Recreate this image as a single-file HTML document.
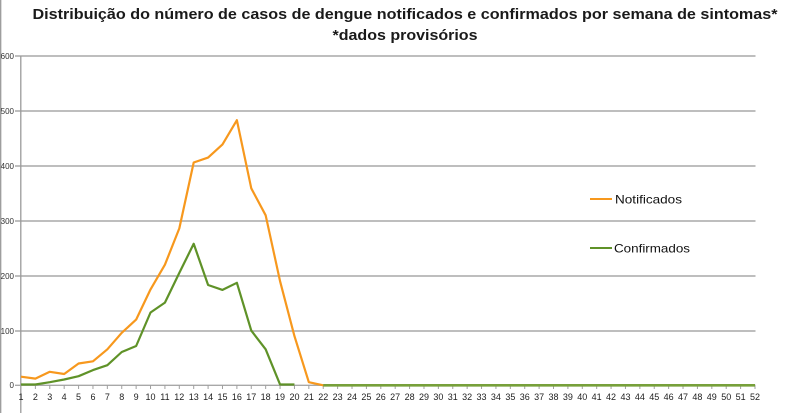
<!DOCTYPE html>
<html>
<head>
<meta charset="utf-8">
<style>
html,body{margin:0;padding:0;background:#fff;}
svg{display:block;}
text{font-family:"Liberation Sans",sans-serif;}
</style>
</head>
<body>
<svg width="800" height="413" viewBox="0 0 800 413" xmlns="http://www.w3.org/2000/svg">
<rect width="800" height="413" fill="#fff"/>
<!-- left border -->
<line x1="0.7" y1="0" x2="0.7" y2="413" stroke="#9a9a9a" stroke-width="1.3"/>
<!-- title -->
<text x="405" y="19" font-size="15" font-weight="bold" fill="#1a1a1a" text-anchor="middle" textLength="745" lengthAdjust="spacingAndGlyphs">Distribuição do número de casos de dengue notificados e confirmados por semana de sintomas*</text>
<text x="405" y="40" font-size="15" font-weight="bold" fill="#1a1a1a" text-anchor="middle" textLength="145" lengthAdjust="spacingAndGlyphs">*dados provisórios</text>
<!-- gridlines -->
<g stroke="#a8a8a8" stroke-width="1.4">
<line x1="15" y1="56" x2="755.5" y2="56"/>
<line x1="15" y1="111" x2="755.5" y2="111"/>
<line x1="15" y1="166" x2="755.5" y2="166"/>
<line x1="15" y1="221" x2="755.5" y2="221"/>
<line x1="15" y1="276" x2="755.5" y2="276"/>
<line x1="15" y1="331" x2="755.5" y2="331"/>
<line x1="15" y1="385.3" x2="755.5" y2="385.3"/>
</g>
<!-- y axis -->
<line x1="20.8" y1="56" x2="20.8" y2="413" stroke="#9a9a9a" stroke-width="1.3"/>
<!-- y labels -->
<g font-size="8" fill="#333" text-anchor="end">
<text x="14" y="59">600</text>
<text x="14" y="114">500</text>
<text x="14" y="169">400</text>
<text x="14" y="224">300</text>
<text x="14" y="279">200</text>
<text x="14" y="334">100</text>
<text x="14" y="388">0</text>
</g>
<!-- x ticks -->
<g stroke="#a0a0a0" stroke-width="1">
<path id="ticks" d="M21 385v4M35.39 385v4M49.78 385v4M64.18 385v4M78.57 385v4M92.96 385v4M107.35 385v4M121.74 385v4M136.14 385v4M150.53 385v4M164.92 385v4M179.31 385v4M193.7 385v4M208.1 385v4M222.49 385v4M236.88 385v4M251.27 385v4M265.66 385v4M280.06 385v4M294.45 385v4M308.84 385v4M323.23 385v4M337.62 385v4M352.02 385v4M366.41 385v4M380.8 385v4M395.19 385v4M409.58 385v4M423.98 385v4M438.37 385v4M452.76 385v4M467.15 385v4M481.54 385v4M495.94 385v4M510.33 385v4M524.72 385v4M539.11 385v4M553.5 385v4M567.9 385v4M582.29 385v4M596.68 385v4M611.07 385v4M625.46 385v4M639.86 385v4M654.25 385v4M668.64 385v4M683.03 385v4M697.42 385v4M711.82 385v4M726.21 385v4M740.6 385v4M755 385v4"/>
</g>
<!-- x labels -->
<g font-size="9" fill="#222" text-anchor="middle">
<text x="21" y="400">1</text><text x="35.39" y="400">2</text><text x="49.78" y="400">3</text><text x="64.18" y="400">4</text><text x="78.57" y="400">5</text><text x="92.96" y="400">6</text><text x="107.35" y="400">7</text><text x="121.74" y="400">8</text><text x="136.14" y="400">9</text><text x="150.53" y="400">10</text><text x="164.92" y="400">11</text><text x="179.31" y="400">12</text><text x="193.7" y="400">13</text><text x="208.1" y="400">14</text><text x="222.49" y="400">15</text><text x="236.88" y="400">16</text><text x="251.27" y="400">17</text><text x="265.66" y="400">18</text><text x="280.06" y="400">19</text><text x="294.45" y="400">20</text><text x="308.84" y="400">21</text><text x="323.23" y="400">22</text><text x="337.62" y="400">23</text><text x="352.02" y="400">24</text><text x="366.41" y="400">25</text><text x="380.8" y="400">26</text><text x="395.19" y="400">27</text><text x="409.58" y="400">28</text><text x="423.98" y="400">29</text><text x="438.37" y="400">30</text><text x="452.76" y="400">31</text><text x="467.15" y="400">32</text><text x="481.54" y="400">33</text><text x="495.94" y="400">34</text><text x="510.33" y="400">35</text><text x="524.72" y="400">36</text><text x="539.11" y="400">37</text><text x="553.5" y="400">38</text><text x="567.9" y="400">39</text><text x="582.29" y="400">40</text><text x="596.68" y="400">41</text><text x="611.07" y="400">42</text><text x="625.46" y="400">43</text><text x="639.86" y="400">44</text><text x="654.25" y="400">45</text><text x="668.64" y="400">46</text><text x="683.03" y="400">47</text><text x="697.42" y="400">48</text><text x="711.82" y="400">49</text><text x="726.21" y="400">50</text><text x="740.6" y="400">51</text><text x="755" y="400">52</text>
</g>
<!-- Notificados -->
<polyline fill="none" stroke="#f7981d" stroke-width="2.2" stroke-linejoin="round" points="21,376.7 35.39,378.6 49.78,371.8 64.18,374 78.57,363.5 92.96,361.3 107.35,349.3 121.74,332.8 136.14,319.6 150.53,289.4 164.92,264.7 179.31,228.4 193.7,162.5 208.1,157.6 222.49,144.4 236.88,120.2 251.27,188.3 265.66,215.3 280.06,281.2 294.45,336.1 308.84,382.2 323.23,385.3 755,385.3"/>
<!-- Confirmados -->
<polyline fill="none" stroke="#5f9228" stroke-width="2.2" stroke-linejoin="round" points="21,384.5 35.39,384.5 49.78,382.2 64.18,379.5 78.57,376.2 92.96,370.1 107.35,365.2 121.74,352 136.14,346 150.53,312.5 164.92,302.6 179.31,272.9 193.7,243.8 208.1,285 222.49,289.9 236.88,282.8 251.27,330.6 265.66,349.3 280.06,384.5 294.45,384.5"/>
<line x1="323.23" y1="385.3" x2="755" y2="385.3" stroke="#77a03a" stroke-width="2.6"/>
<!-- legend -->
<line x1="590" y1="199" x2="612" y2="199" stroke="#f7981d" stroke-width="2"/>
<text x="615" y="203.5" font-size="12" fill="#111" textLength="67" lengthAdjust="spacingAndGlyphs">Notificados</text>
<line x1="590" y1="248" x2="612" y2="248" stroke="#5f9228" stroke-width="2"/>
<text x="614" y="252.5" font-size="12" fill="#111" textLength="76" lengthAdjust="spacingAndGlyphs">Confirmados</text>
</svg>
</body>
</html>
